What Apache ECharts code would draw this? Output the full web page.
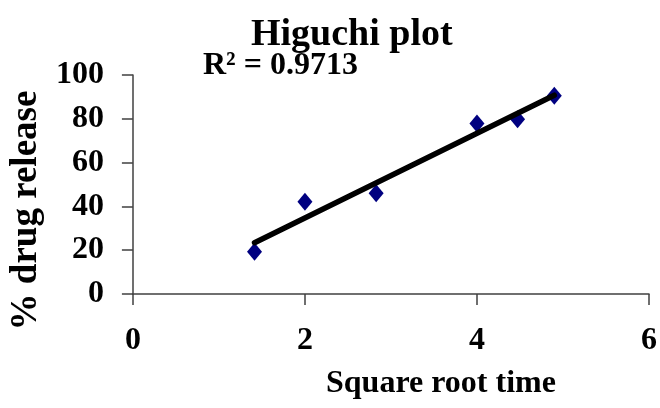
<!DOCTYPE html>
<html>
<head>
<meta charset="utf-8">
<script src="https://cdn.jsdelivr.net/npm/echarts@6/dist/echarts.min.js"></script>
<style>
  html, body { margin: 0; padding: 0; background: #ffffff; }
  #chart { width: 660px; height: 408px; }
</style>
</head>
<body>
<div id="chart"></div>
<script>
// ---- Data ----
var sqrtTime = [1.414, 2.0, 2.828, 4.0, 4.472, 4.899];
var drugRelease = [19.3, 42.1, 46.0, 77.9, 79.8, 90.5];
var xTicks = [0, 2, 4, 6];
var yTicks = [0, 20, 40, 60, 80, 100];
var titleText = 'Higuchi plot';
var r2Text = 'R\u00B2 = 0.9713';
var xName = 'Square root time';
var yName = '% drug release';

// ---- Linear (least squares) trendline computed from the data ----
function linearFit(xs, ys) {
  var n = xs.length, mx = 0, my = 0;
  for (var i = 0; i < n; i++) { mx += xs[i]; my += ys[i]; }
  mx /= n; my /= n;
  var sxy = 0, sxx = 0;
  for (var j = 0; j < n; j++) {
    sxy += (xs[j] - mx) * (ys[j] - my);
    sxx += (xs[j] - mx) * (xs[j] - mx);
  }
  var slope = sxy / sxx;
  return { slope: slope, intercept: my - slope * mx };
}
var fit = linearFit(sqrtTime, drugRelease);
var xMinData = Math.min.apply(null, sqrtTime);
var xMaxData = Math.max.apply(null, sqrtTime);
var trendData = [
  [xMinData, fit.intercept + fit.slope * xMinData],
  [xMaxData, fit.intercept + fit.slope * xMaxData]
];
var scatterData = sqrtTime.map(function (x, i) { return [x, drugRelease[i]]; });

var FONT = "'Liberation Serif', 'Times New Roman', serif";
var AXIS_COLOR = '#404040';

var chart = echarts.init(document.getElementById('chart'), null, { renderer: 'canvas' });
chart.setOption({
  animation: false,
  backgroundColor: '#ffffff',
  title: [
    {
      text: titleText,
      left: 246,
      top: 11,
      textStyle: { fontFamily: FONT, fontWeight: 'bold', fontSize: 38, color: '#000000' }
    },
    {
      text: r2Text,
      left: 198,
      top: 45,
      textStyle: { fontFamily: FONT, fontWeight: 'bold', fontSize: 32, color: '#000000' }
    }
  ],
  grid: { left: 131, right: 7, top: 75, bottom: 114, containLabel: false },
  xAxis: {
    type: 'value',
    min: xTicks[0],
    max: xTicks[xTicks.length - 1],
    interval: xTicks[1] - xTicks[0],
    name: xName,
    nameLocation: 'middle',
    nameGap: 74,
    nameTextStyle: { fontFamily: FONT, fontWeight: 'bold', fontSize: 32, color: '#000000', padding: [0, 0, 0, 100] },
    axisLine: { show: true, onZero: false, lineStyle: { color: AXIS_COLOR, width: 1.5 } },
    axisTick: { show: true, inside: false, length: 11, lineStyle: { color: AXIS_COLOR, width: 1.5 } },
    axisLabel: { margin: 31, fontFamily: FONT, fontWeight: 'bold', fontSize: 32, color: '#000000' },
    splitLine: { show: false }
  },
  yAxis: {
    type: 'value',
    min: yTicks[0],
    max: yTicks[yTicks.length - 1],
    interval: yTicks[1] - yTicks[0],
    name: yName,
    nameLocation: 'middle',
    nameRotate: 90,
    nameGap: 77,
    nameTextStyle: { fontFamily: FONT, fontWeight: 'bold', fontSize: 37, color: '#000000', padding: [0, 52, 0, 0] },
    axisLine: { show: true, onZero: false, lineStyle: { color: AXIS_COLOR, width: 1.5 } },
    axisTick: { show: true, inside: false, length: 11, lineStyle: { color: AXIS_COLOR, width: 1.5 } },
    axisLabel: { margin: 29, fontFamily: FONT, fontWeight: 'bold', fontSize: 32, color: '#000000' },
    splitLine: { show: false }
  },
  series: [
    {
      name: 'Data',
      type: 'scatter',
      data: scatterData,
      symbol: 'diamond',
      symbolSize: [15, 18],
      itemStyle: { color: '#000080', opacity: 1 },
      z: 2
    },
    {
      name: 'Linear fit',
      type: 'line',
      data: trendData,
      symbol: 'none',
      lineStyle: { color: '#000000', width: 5.5, cap: 'round' },
      z: 3
    }
  ]
});
</script>
</body>
</html>
